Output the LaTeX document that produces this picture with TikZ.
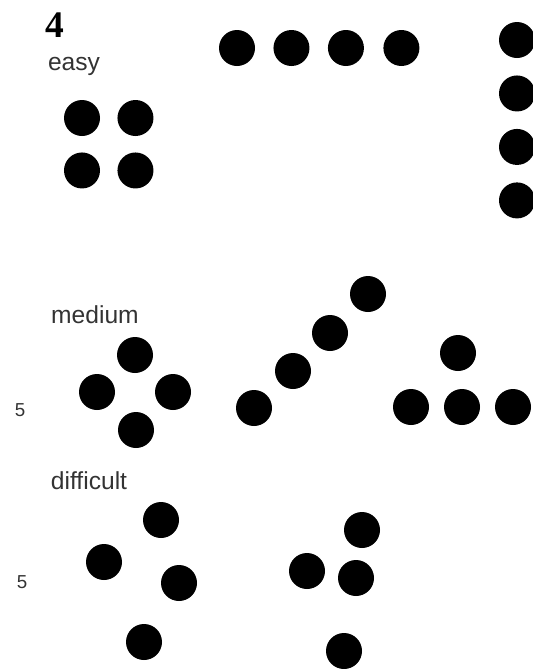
\documentclass[tikz,border=0pt]{standalone}
\usepackage{fontspec}
\setsansfont{Liberation Sans}
\newfontfamily\titlefont{Liberation Serif}
\usetikzlibrary{positioning}

\begin{document}
\begin{tikzpicture}[x=0.03cm,y=-0.03cm,node distance=0.54cm,
    dot/.style={circle,fill=black,inner sep=0pt,minimum size=1.08cm},
    lbl/.style={inner sep=0pt,text=black!80,font=\sffamily\fontsize{21}{25}\selectfont},
    num/.style={inner sep=0pt,text=black!80,font=\sffamily\fontsize{16}{19}\selectfont}]
      \useasboundingbox (0,0) rectangle (533,669);
      % labels
      \node[inner sep=0pt,font=\titlefont\bfseries\fontsize{32}{36}\selectfont] (title) at (55,25) {4};
      \node[lbl] (easy) at (74,66) {easy};
      \node[lbl] (medium) at (95,315) {medium};
      \node[lbl] (difficult) at (89,481) {difficult};
      \node[num] (n5a) at (20,410) {5};
      \node[num] (n5b) at (22,582) {5};
      % easy
      \node[dot] (sq1) at (82,118) {};
      \node[dot,right=0.51cm of sq1] (sq2) {};
      \node[dot,below=0.48cm of sq1] (sq3) {};
      \node[dot,right=0.51cm of sq3] (sq4) {};
      \node[dot] (row1) at (237,48) {};
      \node[dot,right=of row1] (row2) {};
      \node[dot,right=of row2] (row3) {};
      \node[dot,right=0.57cm of row3] (row4) {};
      \node[dot] (col1) at (517,40) {};
      \node[dot,below=0.51cm of col1] (col2) {};
      \node[dot,below=0.51cm of col2] (col3) {};
      \node[dot,below=0.51cm of col3] (col4) {};
      % medium
      \node[dot] (dia1) at (135,355) {};
      \node[dot] (dia2) at (97,392) {};
      \node[dot] (dia3) at (173,392) {};
      \node[dot] (dia4) at (136,430) {};
      \node[dot] (diag1) at (254,408) {};
      \node[dot] (diag2) at (293,371) {};
      \node[dot] (diag3) at (330,333) {};
      \node[dot] (diag4) at (368,294) {};
      \node[dot] (tri1) at (458,353) {};
      \node[dot] (tri2) at (411,407) {};
      \node[dot] (tri3) at (462,407) {};
      \node[dot] (tri4) at (513,407) {};
      % difficult
      \node[dot] (sc1) at (161,520) {};
      \node[dot] (sc2) at (104,562) {};
      \node[dot] (sc3) at (179,583) {};
      \node[dot] (sc4) at (144,642) {};
      \node[dot] (cl1) at (362,530) {};
      \node[dot] (cl2) at (307,571) {};
      \node[dot] (cl3) at (356,578) {};
      \node[dot] (cl4) at (344,651) {};
\end{tikzpicture}
\end{document}
